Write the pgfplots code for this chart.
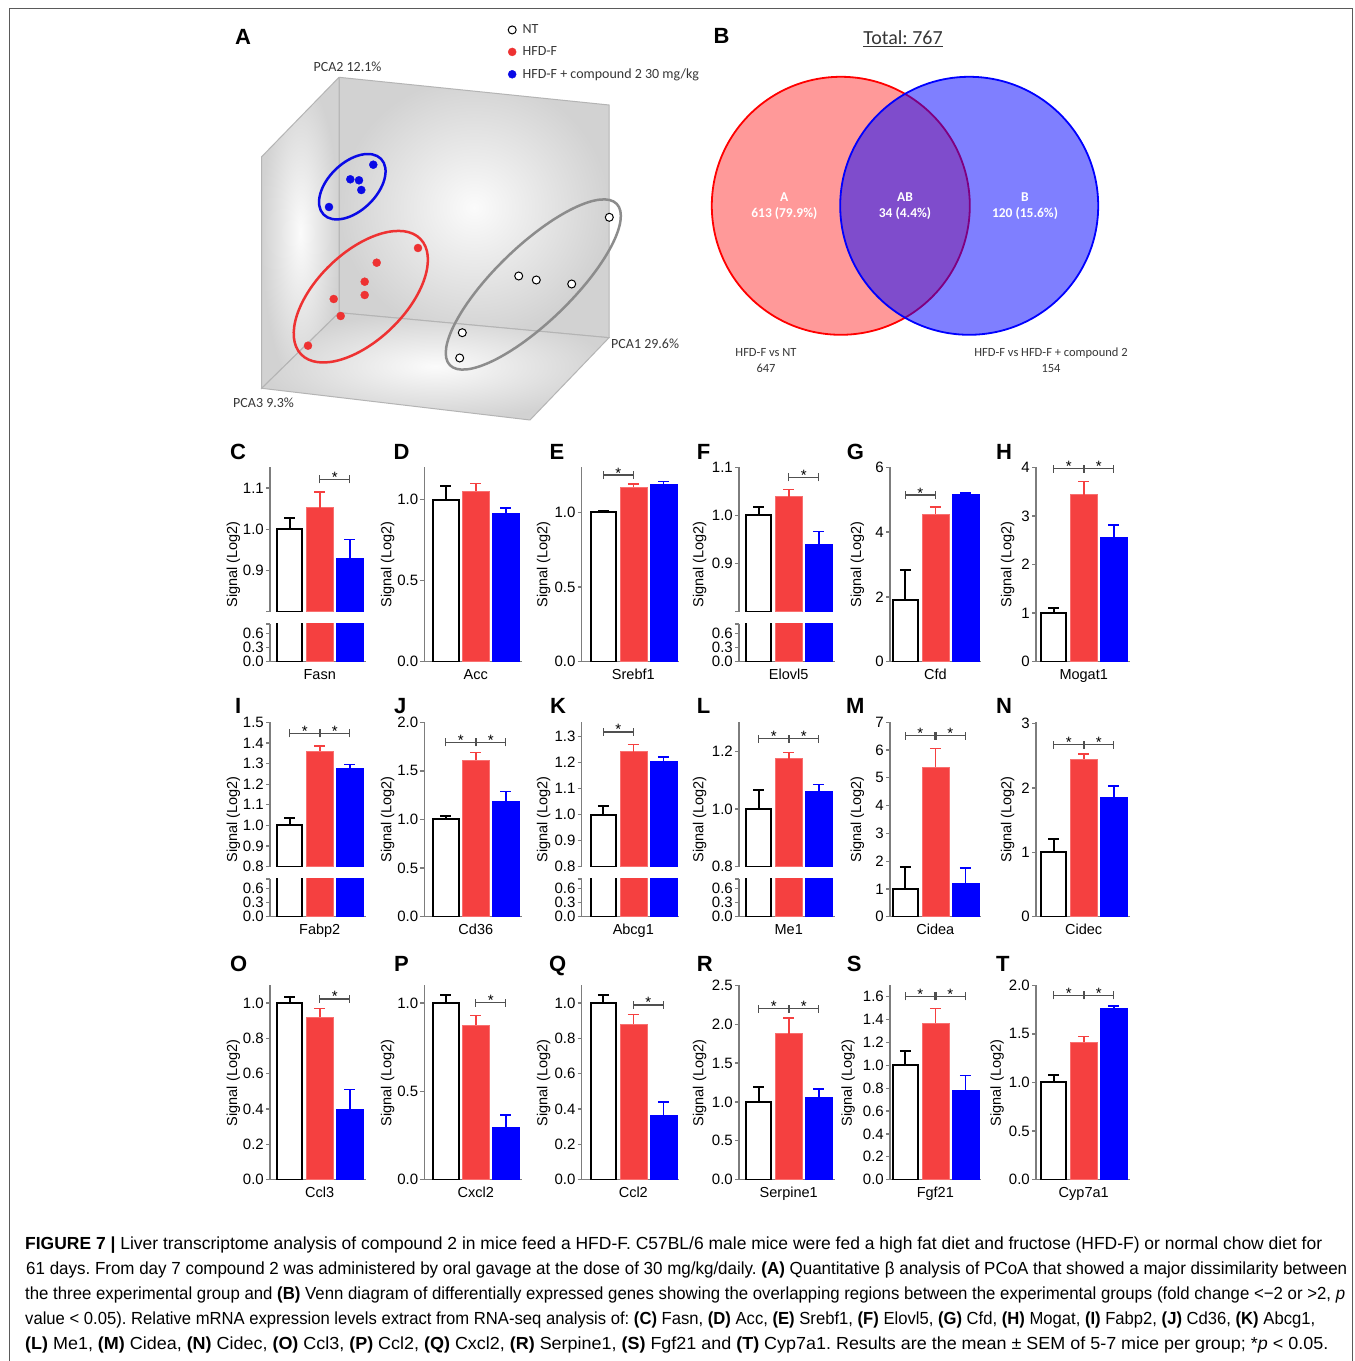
\documentclass[border=0pt]{standalone}
\usepackage{graphicx}
\usepackage{pgfplots}
\pgfplotsset{compat=1.18}
\usepackage{fontspec}
\setmainfont{Liberation Sans}
\newfontfamily\calibri{Carlito}

\definecolor{barred}{RGB}{245,64,64}
\definecolor{axgray}{RGB}{125,125,125}
\definecolor{brkgray}{RGB}{80,80,80}
\definecolor{boxedge}{RGB}{180,180,180}
\definecolor{wallout}{RGB}{210,210,210}
\definecolor{wallin}{RGB}{251,251,251}
\definecolor{txtgray}{RGB}{55,55,55}
\definecolor{ptred}{RGB}{238,50,50}
\definecolor{ptblue}{RGB}{10,10,230}
\definecolor{ellgray}{RGB}{140,140,140}
\definecolor{framegray}{RGB}{90,90,90}

\newcommand{\tk}{\fontsize{15}{15}\selectfont}
\newcommand{\lab}{\fontsize{14.5}{15}\selectfont}
\newcommand{\ylab}{\fontsize{14.5}{15}\selectfont}
\newcommand{\ltr}{\bfseries\fontsize{22}{22}\selectfont}
\newcommand{\capf}{\fontsize{17.5}{20}\selectfont}
\newcommand{\B}[1]{{\bfseries #1}}

\pgfplotsset{
  bp/.style={scale only axis, anchor=south west, height=194.4pt, ymin=0,
    axis x line*=bottom, axis y line*=left, xtick=\empty, enlargelimits=false,
    tick align=outside, major tick length=4pt,
    axis line style={draw=axgray, line width=1.3pt},
    every tick/.style={draw=axgray, line width=1.3pt},
    y tick label style={font=\tk, text=black, inner sep=2pt},
    clip mode=individual,
    /pgf/number format/assume math mode=true},
  up/.style={bp, axis x line=none, ymin=0.8, height=144.4pt},
  lo/.style={bp, height=37.7pt, ymax=0.8, ytick={0,0.3,0.6,0.8}, yticklabels={0.0,0.3,0.6,{}}},
  cC/.style={at={(270pt,#1)}, xmin=-0.657, xmax=2.533, width=95.7pt},
  cD/.style={at={(424.3pt,#1)}, xmin=-0.717, xmax=2.533, width=97.5pt},
  cE/.style={at={(581.7pt,#1)}, xmin=-0.72, xmax=2.533, width=97.6pt},
  cF/.style={at={(739pt,#1)}, xmin=-0.657, xmax=2.533, width=95.7pt},
  cG/.style={at={(890pt,#1)}, xmin=-0.51, xmax=2.533, width=91.3pt},
  cH/.style={at={(1036pt,#1)}, xmin=-0.59, xmax=2.533, width=93.7pt},
}

% white (NT), red (HFD-F), blue (HFD-F + compound 2): mean and SEM
\newcommand{\bars}[6]{%
  \addplot[ybar, bar width=25.5pt, bar shift=0pt, fill=white, draw=black, line width=2pt,
    error bars/.cd, y dir=plus, y explicit,
    error bar style={draw=black, line width=2pt},
    error mark options={rotate=90, draw=black, mark size=5.5pt, line width=2pt}]
    coordinates {(0,#1) +- (0,#2)};
  \addplot[ybar, bar width=27pt, bar shift=0pt, fill=barred, draw=barred!75!white, line width=0.6pt,
    error bars/.cd, y dir=plus, y explicit,
    error bar style={draw=barred, line width=1.6pt},
    error mark options={rotate=90, draw=barred, mark size=5.5pt, line width=1.6pt}]
    coordinates {(1,#3) +- (0,#4)};
  \addplot[ybar, bar width=27pt, bar shift=0pt, fill=blue, draw=blue, line width=0.6pt,
    error bars/.cd, y dir=plus, y explicit,
    error bar style={draw=blue, line width=1.6pt},
    error mark options={rotate=90, draw=blue, mark size=5.5pt, line width=1.6pt}]
    coordinates {(2,#5) +- (0,#6)};
}
% significance bracket: x1, x2, y, star x
\newcommand{\brk}[4]{%
  \draw[brkgray, line width=1.2pt] (axis cs:#1,#3) -- (axis cs:#2,#3);
  \draw[brkgray, line width=1.2pt] (axis cs:#1,#3) ++(0pt,-4pt) -- ++(0pt,8pt);
  \draw[brkgray, line width=1.2pt] (axis cs:#2,#3) ++(0pt,-4pt) -- ++(0pt,8pt);
  \node[anchor=base, inner sep=0pt, font=\tk, yshift=-3pt] at (axis cs:#4,#3) {*};
}
\newcommand{\xl}[1]{\node[anchor=base, inner sep=0pt, font=\lab, yshift=-18pt] at (axis cs:1,0) {#1};}

\begin{document}
\frenchspacing
\begin{tikzpicture}[x=1pt, y=1pt]
\useasboundingbox (0,0) rectangle (1355,1361);
\fill[white] (0,0) rectangle (1355,1361);
\draw[framegray, line width=1.5pt] (9.3,-2) -- (9.3,1352.3) -- (1352.7,1352.3) -- (1352.7,-2);

% ---------------- A: PCA ----------------
\begin{axis}[at={(220pt,1346pt)}, anchor=north west, scale only axis, width=480pt, height=410pt,
  xmin=220, xmax=700, ymin=15, ymax=425, y dir=reverse, axis lines=none, clip=false,
  legend style={at={(axis cs:508,23.5)}, anchor=north west, draw=none, fill=none,
    font=\calibri\fontsize{14}{15}\selectfont, row sep=9.5pt, inner sep=0pt,
    nodes={inner xsep=6.5pt, inner ysep=1pt, text=txtgray}},
  legend cell align=left,
  legend image code/.code={\draw[#1] plot coordinates {(0pt,0pt)};}]
\addplot[draw=boxedge, line width=1pt, inner color=wallin, outer color=wallout, forget plot]
  coordinates {(339,77.3) (609,105) (609,337.7) (339,312.7) (339,77.3)};
\addplot[draw=boxedge, line width=1pt, inner color=wallin, outer color=wallout, forget plot]
  coordinates {(339,77.3) (339,312.7) (261.7,388.3) (261.7,156.7) (339,77.3)};
\addplot[draw=boxedge, line width=1pt, inner color=wallin, outer color=wallout, forget plot]
  coordinates {(339,312.7) (609,337.7) (530,420) (261.7,388.3) (339,312.7)};
\draw[ptblue, line width=2.5pt, rotate around={44:(axis cs:352.3,186.7)}]
  (axis cs:352.3,186.7) ellipse [x radius=40pt, y radius=24pt];
\draw[ptred, line width=2.5pt, rotate around={44:(axis cs:360.8,296.7)}]
  (axis cs:360.8,296.7) ellipse [x radius=83pt, y radius=44pt];
\draw[ellgray, line width=2.5pt, rotate around={44:(axis cs:533.3,284.5)}]
  (axis cs:533.3,284.5) ellipse [x radius=116pt, y radius=38pt];
\addplot[only marks, mark=*, mark size=4pt, mark options={fill=white, draw=black, line width=1pt}]
  coordinates {(609.3,217.3) (518.7,276) (536.3,280) (571.7,284) (462.3,332.7) (459.7,358)};
\addlegendentry{NT}
\addplot[only marks, mark=*, mark size=4pt, mark options={fill=ptred, draw=ptred}]
  coordinates {(418,248) (376.7,262.7) (364.7,281.7) (364.7,295) (333.7,299) (340.7,316) (308,345.7)};
\addlegendentry{HFD-F}
\addplot[only marks, mark=*, mark size=4pt, mark options={fill=ptblue, draw=ptblue}]
  coordinates {(373.3,164.7) (350.3,179.3) (359,180.3) (361.3,190) (329,207)};
\addlegendentry{HFD-F + compound 2 30 mg/kg}
\node[txtgray, inner sep=0pt, font=\calibri\fontsize{14}{14}\selectfont] at (axis cs:347.5,66.7) {PCA2 12.1\%};
\node[txtgray, anchor=west, inner sep=0pt, font=\calibri\fontsize{14}{14}\selectfont] at (axis cs:611,343.3) {PCA1 29.6\%};
\node[txtgray, anchor=west, inner sep=0pt, font=\calibri\fontsize{14}{14}\selectfont] at (axis cs:233,402.7) {PCA3 9.3\%};
\end{axis}

% ---------------- B: Venn ----------------
\begin{axis}[at={(700pt,1346pt)}, anchor=north west, scale only axis, width=460pt, height=390pt,
  xmin=700, xmax=1160, ymin=15, ymax=405, y dir=reverse, axis lines=none, clip=false]
\fill[red, fill opacity=0.4] (axis cs:840.8,205.8) circle [radius=129pt];
\draw[red, line width=1.8pt] (axis cs:840.8,205.8) circle [radius=129pt];
\fill[blue, fill opacity=0.5] (axis cs:969.2,205.8) circle [radius=129pt];
\draw[blue, line width=1.8pt] (axis cs:969.2,205.8) circle [radius=129pt];
\node[white, align=center, font=\calibri\bfseries\fontsize{13.5}{16.6}\selectfont] at (axis cs:784.3,206) {A\\613 (79.9\%)};
\node[white, align=center, font=\calibri\bfseries\fontsize{13.5}{16.6}\selectfont] at (axis cs:905,206) {AB\\34 (4.4\%)};
\node[white, align=center, font=\calibri\bfseries\fontsize{13.5}{16.6}\selectfont] at (axis cs:1025,206) {B\\120 (15.6\%)};
\node[txtgray, align=center, font=\calibri\fontsize{12.5}{16}\selectfont] at (axis cs:766,360.3) {HFD-F vs NT\\647};
\node[txtgray, align=center, font=\calibri\fontsize{12.5}{16}\selectfont] at (axis cs:1051,360.3) {HFD-F vs HFD-F + compound 2\\154};
\node[txtgray, anchor=base, inner sep=0pt, font=\calibri\fontsize{20}{20}\selectfont] at (axis cs:903,45) {\underline{Total: 767}};
\end{axis}

% ---------------- row 1 ----------------
\begin{axis}[up, cC=749.3pt, ymax=1.15, ytick={0.8,0.9,1.0,1.1}, yticklabels={{},0.9,1.0,1.1}]
\bars{1.0}{0.028}{1.052}{0.038}{0.93}{0.045}
\brk{1}{2}{1.121}{1.5}
\end{axis}
\begin{axis}[lo, cC=699.3pt]
\bars{1.0}{0.028}{1.052}{0.038}{0.93}{0.045}
\xl{Fasn}
\end{axis}

\begin{axis}[bp, cD=699.3pt, ymax=1.2, ytick={0,0.5,1}, yticklabels={0.0,0.5,1.0}]
\bars{1.0}{0.085}{1.054}{0.046}{0.918}{0.031}
\xl{Acc}
\end{axis}

\begin{axis}[bp, cE=699.3pt, ymax=1.3, ytick={0,0.5,1}, yticklabels={0.0,0.5,1.0}]
\bars{1.0}{0.007}{1.167}{0.02}{1.183}{0.022}
\brk{0}{1}{1.248}{0.5}
\xl{Srebf1}
\end{axis}

\begin{axis}[up, cF=749.3pt, ymax=1.1, ytick={0.8,0.9,1.0,1.1}, yticklabels={{},0.9,1.0,1.1}]
\bars{1.0}{0.017}{1.039}{0.015}{0.941}{0.026}
\brk{1}{2}{1.079}{1.5}
\end{axis}
\begin{axis}[lo, cF=699.3pt]
\bars{1.0}{0.017}{1.039}{0.015}{0.941}{0.026}
\xl{Elovl5}
\end{axis}

\begin{axis}[bp, cG=699.3pt, ymax=6, ytick={0,2,4,6}, yticklabels={0,2,4,6}]
\bars{1.91}{0.92}{4.56}{0.22}{5.18}{0.03}
\brk{0}{1}{5.145}{0.5}
\xl{Cfd}
\end{axis}

\begin{axis}[bp, cH=699.3pt, ymax=4, ytick={0,1,2,3,4}, yticklabels={0,1,2,3,4}]
\bars{1.0}{0.1}{3.44}{0.27}{2.56}{0.25}
\brk{0}{0.98}{3.967}{0.5}
\brk{1.02}{2}{3.967}{1.5}
\xl{Mogat1}
\end{axis}

% ---------------- row 2 ----------------
\begin{axis}[up, cC=494.3pt, ymax=1.5, ytick={0.8,0.9,1.0,1.1,1.2,1.3,1.4,1.5},
  yticklabels={0.8,0.9,1.0,1.1,1.2,1.3,1.4,1.5}]
\bars{1.0}{0.037}{1.36}{0.025}{1.275}{0.02}
\brk{0}{0.98}{1.446}{0.5}
\brk{1.02}{2}{1.446}{1.5}
\end{axis}
\begin{axis}[lo, cC=444.3pt]
\bars{1.0}{0.037}{1.36}{0.025}{1.275}{0.02}
\xl{Fabp2}
\end{axis}

\begin{axis}[bp, cD=444.3pt, ymax=2, ytick={0,0.5,1,1.5,2}, yticklabels={0.0,0.5,1.0,1.5,2.0}]
\bars{1.0}{0.04}{1.61}{0.08}{1.19}{0.096}
\brk{0}{0.98}{1.794}{0.5}
\brk{1.02}{2}{1.794}{1.5}
\xl{Cd36}
\end{axis}

\begin{axis}[up, cE=494.3pt, ymax=1.355, ytick={0.8,0.9,1.0,1.1,1.2,1.3},
  yticklabels={0.8,0.9,1.0,1.1,1.2,1.3}]
\bars{1.0}{0.035}{1.242}{0.028}{1.205}{0.017}
\brk{0}{1}{1.318}{0.5}
\end{axis}
\begin{axis}[lo, cE=444.3pt]
\bars{1.0}{0.035}{1.242}{0.028}{1.205}{0.017}
\xl{Abcg1}
\end{axis}

\begin{axis}[up, cF=494.3pt, ymax=1.3, ytick={0.8,1.0,1.2}, yticklabels={0.8,1.0,1.2}]
\bars{1.0}{0.064}{1.174}{0.021}{1.06}{0.024}
\brk{0}{0.98}{1.243}{0.5}
\brk{1.02}{2}{1.243}{1.5}
\end{axis}
\begin{axis}[lo, cF=444.3pt]
\bars{1.0}{0.064}{1.174}{0.021}{1.06}{0.024}
\xl{Me1}
\end{axis}

\begin{axis}[bp, cG=444.3pt, ymax=7, ytick={0,1,2,3,4,5,6,7}, yticklabels={0,1,2,3,4,5,6,7}]
\bars{1.0}{0.8}{5.39}{0.67}{1.21}{0.55}
\brk{0}{0.98}{6.52}{0.5}
\brk{1.02}{2}{6.52}{1.5}
\xl{Cidea}
\end{axis}

\begin{axis}[bp, cH=444.3pt, ymax=3.02, ytick={0,1,2,3}, yticklabels={0,1,2,3}]
\bars{1.0}{0.2}{2.45}{0.08}{1.85}{0.18}
\brk{0}{0.98}{2.675}{0.5}
\brk{1.02}{2}{2.675}{1.5}
\xl{Cidec}
\end{axis}

% ---------------- row 3 ----------------
\begin{axis}[bp, cC=181.3pt, ymax=1.1, ytick={0,0.2,0.4,0.6,0.8,1.0}, yticklabels={0.0,0.2,0.4,0.6,0.8,1.0}]
\bars{1.0}{0.034}{0.919}{0.049}{0.396}{0.115}
\brk{1}{2}{1.023}{1.5}
\xl{Ccl3}
\end{axis}

\begin{axis}[bp, cD=181.3pt, ymax=1.1, ytick={0,0.5,1}, yticklabels={0.0,0.5,1.0}]
\bars{1.0}{0.043}{0.874}{0.054}{0.296}{0.07}
\brk{1}{2}{1.002}{1.5}
\xl{Cxcl2}
\end{axis}

\begin{axis}[bp, cE=181.3pt, ymax=1.1, ytick={0,0.2,0.4,0.6,0.8,1.0}, yticklabels={0.0,0.2,0.4,0.6,0.8,1.0}]
\bars{1.0}{0.043}{0.881}{0.053}{0.362}{0.078}
\brk{1}{2}{0.989}{1.5}
\xl{Ccl2}
\end{axis}

\begin{axis}[bp, cF=181.3pt, ymax=2.5, ytick={0,0.5,1,1.5,2,2.5}, yticklabels={0.0,0.5,1.0,1.5,2.0,2.5}]
\bars{1.0}{0.198}{1.88}{0.2}{1.064}{0.106}
\brk{0}{0.98}{2.2}{0.5}
\brk{1.02}{2}{2.2}{1.5}
\xl{Serpine1}
\end{axis}

\begin{axis}[bp, cG=181.3pt, ymax=1.7, ytick={0,0.2,0.4,0.6,0.8,1.0,1.2,1.4,1.6},
  yticklabels={0.0,0.2,0.4,0.6,0.8,1.0,1.2,1.4,1.6}]
\bars{1.0}{0.127}{1.37}{0.127}{0.785}{0.125}
\brk{0}{0.98}{1.603}{0.5}
\brk{1.02}{2}{1.603}{1.5}
\xl{Fgf21}
\end{axis}

\begin{axis}[bp, cH=181.3pt, ymax=2, ytick={0,0.5,1,1.5,2}, yticklabels={0.0,0.5,1.0,1.5,2.0}]
\bars{1.0}{0.08}{1.418}{0.055}{1.768}{0.022}
\brk{0}{0.98}{1.897}{0.5}
\brk{1.02}{2}{1.897}{1.5}
\xl{Cyp7a1}
\end{axis}

% y labels
\foreach \xx in {233.3,387.5,543.5,699.5,857.3,1007.7}
  \foreach \yy in {796.5,541.5}
    \node[rotate=90, inner sep=0pt, font=\ylab] at (\xx,\yy) {Signal (Log2)};
\foreach \xx in {233.3,387.5,543.5,699.5,848,997}
  \node[rotate=90, inner sep=0pt, font=\ylab] at (\xx,278) {Signal (Log2)};

% panel letters
\node[anchor=base west, inner sep=0pt, font=\ltr] at (235,1316) {A};
\node[anchor=base west, inner sep=0pt, font=\ltr] at (713.3,1317.7) {B};
\node[anchor=base west, inner sep=0pt, font=\ltr] at (230,901.5) {C};
\node[anchor=base west, inner sep=0pt, font=\ltr] at (393.3,901.5) {D};
\node[anchor=base west, inner sep=0pt, font=\ltr] at (549.3,901.5) {E};
\node[anchor=base west, inner sep=0pt, font=\ltr] at (696.7,901.5) {F};
\node[anchor=base west, inner sep=0pt, font=\ltr] at (846.7,901.5) {G};
\node[anchor=base west, inner sep=0pt, font=\ltr] at (996,901.5) {H};
\node[anchor=base west, inner sep=0pt, font=\ltr] at (235,647.5) {I};
\node[anchor=base west, inner sep=0pt, font=\ltr] at (394,647.5) {J};
\node[anchor=base west, inner sep=0pt, font=\ltr] at (550,647.5) {K};
\node[anchor=base west, inner sep=0pt, font=\ltr] at (696.7,647.5) {L};
\node[anchor=base west, inner sep=0pt, font=\ltr] at (846,647.5) {M};
\node[anchor=base west, inner sep=0pt, font=\ltr] at (996,647.5) {N};
\node[anchor=base west, inner sep=0pt, font=\ltr] at (230,389.3) {O};
\node[anchor=base west, inner sep=0pt, font=\ltr] at (394,389.3) {P};
\node[anchor=base west, inner sep=0pt, font=\ltr] at (549,389.3) {Q};
\node[anchor=base west, inner sep=0pt, font=\ltr] at (696.7,389.3) {R};
\node[anchor=base west, inner sep=0pt, font=\ltr] at (846.7,389.3) {S};
\node[anchor=base west, inner sep=0pt, font=\ltr] at (996,389.3) {T};

% caption
\node[anchor=base west, inner sep=0pt] at (25,111.5) {\resizebox{1297pt}{\height}{\capf \B{FIGURE 7 |} Liver transcriptome analysis of compound 2 in mice feed a HFD-F. C57BL/6 male mice were fed a high fat diet and fructose (HFD-F) or normal chow diet for}};
\node[anchor=base west, inner sep=0pt] at (26,86.4) {\resizebox{1321pt}{\height}{\capf 61 days. From day 7 compound 2 was administered by oral gavage at the dose of 30 mg/kg/daily. \B{(A)} Quantitative β analysis of PCoA that showed a major dissimilarity between}};
\node[anchor=base west, inner sep=0pt] at (25,61.3) {\resizebox{1320pt}{\height}{\capf the three experimental group and \B{(B)} Venn diagram of differentially expressed genes showing the overlapping regions between the experimental groups (fold change <−2 or >2, \textit{p}}};
\node[anchor=base west, inner sep=0pt] at (25,36.2) {\resizebox{1290pt}{\height}{\capf value < 0.05). Relative mRNA expression levels extract from RNA-seq analysis of: \B{(C)} Fasn, \B{(D)} Acc, \B{(E)} Srebf1, \B{(F)} Elovl5, \B{(G)} Cfd, \B{(H)} Mogat, \B{(I)} Fabp2, \B{(J)} Cd36, \B{(K)} Abcg1,}};
\node[anchor=base west, inner sep=0pt] at (25,11.1) {\resizebox{1303pt}{\height}{\capf \B{(L)} Me1, \B{(M)} Cidea, \B{(N)} Cidec, \B{(O)} Ccl3, \B{(P)} Ccl2, \B{(Q)} Cxcl2, \B{(R)} Serpine1, \B{(S)} Fgf21 and \B{(T)} Cyp7a1. Results are the mean ± SEM of 5-7 mice per group; *\textit{p} < 0.05.}};
\end{tikzpicture}
\end{document}
